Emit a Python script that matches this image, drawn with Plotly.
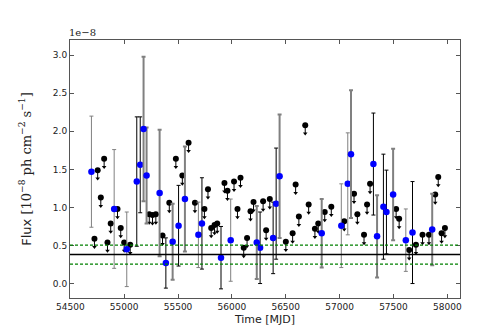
import plotly.graph_objects as go

# detections, grouped by the error bar style they were drawn with (flux in 1e-8 ph cm^-2 s^-1)
thick_mjd = [55180, 55208, 55329, 55450, 55564, 56231, 56443, 56834, 57106, 57348, 57497, 57860]
thick_flux = [2.03, 1.42, 1.19, 0.55, 1.11, 0.54, 1.41, 0.66, 1.70, 0.62, 1.17, 0.71]
thick_err = [0.95, 0.63, 0.83, 0.50, 0.69, 0.48, 0.81, 0.45, 0.84, 0.54, 0.60, 0.47]

thin_mjd = [54696, 54907, 55024, 55689, 55989, 57016, 57076, 57615]
thin_flux = [1.47, 0.98, 0.45, 0.64, 0.57, 0.76, 1.31, 0.57]
thin_err = [0.73, 0.78, 0.49, 0.43, 0.54, 0.55, 0.67, 0.41]

black_mjd = [55117, 55149, 55387, 55505, 55722, 55899, 56262, 56383, 56411, 57314, 57407, 57435, 57677]
black_flux = [1.34, 1.56, 0.27, 0.76, 0.79, 0.34, 0.47, 0.60, 1.05, 1.57, 1.01, 0.94, 0.67]
black_err = [0.85, 0.63, 0.33, 0.53, 0.60, 0.41, 0.47, 0.47, 0.73, 0.67, 0.69, 0.55, 0.67]

# upper limits
ul_mjd = [54724, 54754, 54783, 54814, 54845, 54875, 54938, 54968, 55000, 55056,
          55233, 55263, 55294, 55356, 55419, 55480, 55540, 55598, 55657, 55745,
          55778, 55808, 55839, 55864, 55931, 55959, 56020, 56052, 56080, 56110,
          56141, 56173, 56201, 56290, 56318, 56352, 56501, 56564, 56592, 56622,
          56681, 56713, 56771, 56802, 56862, 56923, 57043, 57134, 57165, 57227,
          57255, 57283, 57525, 57553, 57646, 57709, 57770, 57830, 57888, 57916,
          57947, 57978]
ul_flux = [0.59, 1.49, 1.13, 1.64, 0.54, 0.79, 0.98, 0.73, 0.54, 0.51,
           0.91, 0.90, 0.91, 0.63, 1.06, 1.64, 1.42, 1.85, 1.06, 0.98,
           1.24, 0.73, 0.77, 0.79, 1.32, 1.22, 1.34, 0.98, 1.39, 0.47,
           0.60, 0.95, 1.07, 1.08, 0.70, 1.11, 0.55, 0.66, 1.30, 0.88,
           2.08, 1.04, 0.72, 0.79, 0.94, 1.01, 0.82, 1.18, 0.91, 0.64,
           1.04, 1.31, 0.98, 0.85, 0.44, 0.51, 0.64, 0.64, 1.17, 1.40,
           0.66, 0.73]

flux_mean = 0.38
band_hi = 0.505
band_lo = 0.254

y_ticks = [0.0, 0.5, 1.0, 1.5, 2.0, 2.5, 3.0]
x_ticks = [54500, 55000, 55500, 56000, 56500, 57000, 57500, 58000]

arrow_len = 0.11
GRAY = "#808080"

fig = go.Figure()

# upper limits: short line down + arrow head + dot
fig.add_trace(go.Scatter(
    x=ul_mjd, y=ul_flux, mode="markers",
    marker=dict(size=6, color="black"),
    error_y=dict(type="data", symmetric=False, array=[0] * len(ul_flux),
                 arrayminus=[arrow_len] * len(ul_flux),
                 color="black", thickness=1, width=0),
    showlegend=False))
fig.add_trace(go.Scatter(
    x=ul_mjd, y=[f - arrow_len for f in ul_flux], mode="markers",
    marker=dict(symbol="triangle-down", size=4, color="black"),
    showlegend=False))

for xs, ys, es, col, thk in [(thin_mjd, thin_flux, thin_err, GRAY, 1),
                             (black_mjd, black_flux, black_err, "black", 1),
                             (thick_mjd, thick_flux, thick_err, GRAY, 2)]:
    fig.add_trace(go.Scatter(
        x=xs, y=ys, mode="markers",
        marker=dict(size=6.5, color="blue"),
        error_y=dict(type="data", array=es, color=col, thickness=thk, width=2),
        showlegend=False))

fig.add_hline(y=flux_mean, line=dict(color="black", width=1.5))
fig.add_hline(y=band_hi, line=dict(color="#008000", width=1.2, dash="3px,2px"))
fig.add_hline(y=band_lo, line=dict(color="#008000", width=1.2, dash="3px,2px"))

fig.update_layout(
    width=501, height=327,
    margin=dict(l=62, r=49, t=32, b=33),
    plot_bgcolor="white", paper_bgcolor="white",
    font=dict(family="DejaVu Sans", size=9, color="#222"),
    xaxis=dict(range=[54497, 58118], tickvals=x_ticks, tickformat="d",
               ticks="inside", ticklen=4,
               showline=True, linecolor="#555", linewidth=1, mirror="ticks",
               showgrid=False, zeroline=False, tickcolor="#555",
               title=dict(text="Time [MJD]", font=dict(size=11), standoff=4)),
    yaxis=dict(range=[-0.19, 3.20], tickvals=y_ticks, tickformat=".1f",
               ticks="inside", ticklen=4,
               showline=True, linecolor="#555", linewidth=1, mirror="ticks",
               showgrid=False, zeroline=False, tickcolor="#555",
               title=dict(text='Flux <span style="font-family:DejaVu Serif">[10<sup>\u22128</sup> ph cm<sup>\u22122</sup> s<sup>\u22121</sup>]</span>',
                          font=dict(size=13), standoff=18)),
    annotations=[dict(text="1e\u22128", xref="paper", yref="paper", x=0.033, y=1.0,
                      xanchor="center", yanchor="bottom", showarrow=False,
                      font=dict(family="DejaVu Serif", size=10, color="#222"))],
)

fig.write_html("out.html")
